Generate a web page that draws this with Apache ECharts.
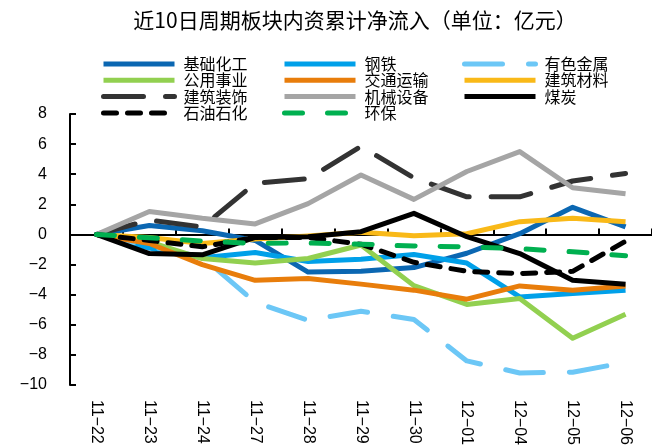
<!DOCTYPE html>
<html>
<head>
<meta charset="utf-8">
<script src="https://cdn.jsdelivr.net/npm/echarts@6/dist/echarts.min.js"></script>
<style>
  html, body { margin: 0; padding: 0; background: #fff; }
  #chart { width: 652px; height: 448px; }
</style>
</head>
<body>
<div id="chart"></div>
<script>
// Trading days (month−day)
const categories = ['11−22', '11−23', '11−24', '11−27', '11−28', '11−29', '11−30', '12−01', '12−04', '12−05', '12−06'];

// Cumulative net inflow per sector, 100 million yuan
const jichuHuagong   = [0, 0.6, 0.25, -0.4, -2.5, -2.45, -2.2, -1.25, 0.05, 1.8, 0.5];
const gangtie        = [0, -0.9, -1.55, -1.2, -1.8, -1.65, -1.33, -1.9, -4.15, -3.93, -3.7];
const youseJinshu    = [0, -0.8, -1.5, -4.5, -5.7, -5.1, -5.65, -8.4, -9.2, -9.15, -8.5];
const gongyongShiye  = [0, -0.5, -1.6, -1.9, -1.6, -0.7, -3.4, -4.65, -4.25, -6.9, -5.3];
const jiaotongYunshu = [0, -0.6, -2.0, -3.05, -2.92, -3.3, -3.7, -4.3, -3.42, -3.7, -3.42];
const jianzhuCailiao = [0, -0.2, -0.6, -0.3, -0.1, 0.15, -0.08, 0.05, 0.85, 1.07, 0.84];
const jianzhuZhuangshi = [0, 0.95, 0.5, 3.4, 3.7, 5.85, 3.75, 2.5, 2.5, 3.55, 4.05];
const jixieShebei    = [0, 1.52, 1.07, 0.7, 2.05, 3.95, 2.33, 4.18, 5.5, 3.1, 2.7];
const meitan         = [0, -1.27, -1.35, -0.2, -0.15, 0.18, 1.4, -0.15, -1.27, -3.04, -3.31];
const shiyouShihua   = [0, -0.4, -0.82, -0.2, -0.2, -0.65, -1.85, -2.45, -2.6, -2.45, -0.45];
const huanbao        = [0, -0.22, -0.44, -0.6, -0.56, -0.65, -0.77, -0.82, -0.95, -1.15, -1.42];

// Y axis tick range
const yMin = -10, yMax = 8, yStep = 2;

const cjkFont = '"Noto Sans CJK SC", "Noto Sans", sans-serif';
const numFont = '"Liberation Sans", Arial, sans-serif';

function lineSeries(name, data, color, dash) {
  return {
    name: name,
    type: 'line',
    data: data,
    xAxisIndex: 0,
    symbol: 'none',
    showSymbol: false,
    smooth: false,
    lineStyle: {
      color: color,
      width: 5,
      type: dash || 'solid',
      cap: dash ? 'round' : 'butt',
      join: 'round'
    },
    itemStyle: { color: color },
    emphasis: { disabled: true }
  };
}

const series = [
  lineSeries('基础化工', jichuHuagong, '#0b67b2'),
  lineSeries('钢铁', gangtie, '#00a0e9'),
  lineSeries('有色金属', youseJinshu, '#6cc7f6', [38, 26]),
  lineSeries('公用事业', gongyongShiye, '#92d050'),
  lineSeries('交通运输', jiaotongYunshu, '#e87d0b'),
  lineSeries('建筑材料', jianzhuCailiao, '#f9b918'),
  lineSeries('建筑装饰', jianzhuZhuangshi, '#333333', [40, 22]),
  lineSeries('机械设备', jixieShebei, '#a5a5a5'),
  lineSeries('煤炭', meitan, '#000000'),
  lineSeries('石油石化', shiyouShihua, '#000000', [13, 11]),
  lineSeries('环保', huanbao, '#00b050', [18, 25])
];

// one vertical legend block per column; only the line sample is shown
function legendColumn(names, left) {
  return {
    data: names,
    orient: 'vertical',
    left: left,
    top: 56,
    padding: 0,
    itemWidth: 71,
    itemHeight: 14,
    itemGap: 0.3,
    selectedMode: false,
    itemStyle: { opacity: 0 },
    lineStyle: { width: 5 },
    textStyle: {
      fontFamily: cjkFont,
      fontSize: 16,
      lineHeight: 16,
      color: '#000',
      padding: [0, 0, 0, 4]
    }
  };
}

const chart = echarts.init(document.getElementById('chart'), null, { renderer: 'canvas' });

chart.setOption({
  animation: false,
  backgroundColor: '#ffffff',
  title: {
    text: '近10日周期板块内资累计净流入（单位：亿元）',
    left: 355,
    top: 10,
    textAlign: 'center',
    padding: 0,
    textStyle: {
      fontFamily: cjkFont,
      fontSize: 21,
      fontWeight: 'normal',
      color: '#000'
    }
  },
  legend: [
    legendColumn(['基础化工', '公用事业', '建筑装饰', '石油石化'], 101),
    legendColumn(['钢铁', '交通运输', '机械设备', '环保'], 282),
    legendColumn(['有色金属', '建筑材料', '煤炭'], 462)
  ],
  grid: {
    left: 70,
    top: 114,
    width: 586,
    height: 271,
    containLabel: false
  },
  xAxis: [
    {
      // zero line with boundary ticks
      type: 'category',
      data: categories,
      boundaryGap: true,
      position: 'bottom',
      axisLine: { show: true, onZero: true, lineStyle: { color: '#000', width: 2 } },
      axisTick: { show: true, inside: true, length: 6, lineStyle: { color: '#000', width: 2 } },
      axisLabel: { show: false },
      splitLine: { show: false }
    },
    {
      // date labels along the bottom edge
      type: 'category',
      data: categories,
      boundaryGap: true,
      position: 'bottom',
      axisLine: { show: false, onZero: false },
      axisTick: { show: false },
      axisLabel: {
        show: true,
        rotate: -90,
        margin: 15,
        fontFamily: numFont,
        fontSize: 16,
        color: '#000',
        interval: 0
      },
      splitLine: { show: false }
    }
  ],
  yAxis: {
    type: 'value',
    min: yMin,
    max: yMax,
    interval: yStep,
    axisLine: { show: true, lineStyle: { color: '#000', width: 2 } },
    axisTick: { show: true, inside: true, length: 6, lineStyle: { color: '#000', width: 2 } },
    splitLine: { show: false },
    axisLabel: {
      margin: 23,
      fontFamily: numFont,
      fontSize: 16,
      color: '#000',
      formatter: function (v) { return v < 0 ? '−' + Math.abs(v) : String(v); }
    }
  },
  series: series
});
</script>
</body>
</html>
